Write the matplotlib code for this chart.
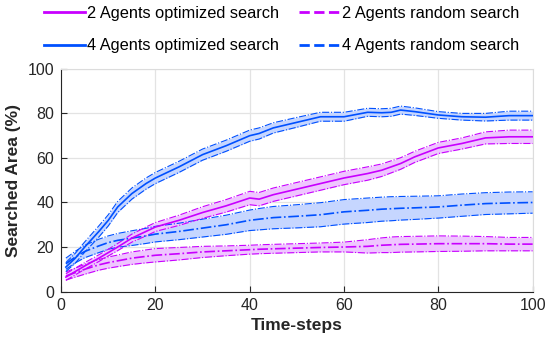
import numpy as np
import matplotlib
matplotlib.use("Agg")
import matplotlib.pyplot as plt
from matplotlib.lines import Line2D

plt.rcParams['font.family'] = ['Liberation Sans', 'DejaVu Sans']

# Time-steps at which the coverage was sampled
steps = [1, 3, 5, 8, 10, 12, 15, 18, 20, 25, 30, 35, 40, 42, 45, 50, 55, 60,
         65, 68, 70, 72, 75, 80, 85, 90, 95, 100]

# 4 agents, optimized search: mean and standard deviation (%)
opt4_mean = [11, 15, 20, 27, 32, 38, 44, 48.5, 51, 56, 61.5, 65.5, 70, 71,
             73.5, 76, 78.5, 78.5, 80.5, 80.3, 80.5, 81.5, 80.8, 79.3, 78.5,
             78.3, 79, 79]
opt4_std = [2, 2.2, 2.3, 2.5, 2.5, 2.5, 2.5, 2.5, 2.5, 2.5, 2.5, 2.5, 2.5, 2.5,
            2.3, 2.2, 2, 2, 1.8, 1.8, 1.8, 1.8, 1.7, 1.5, 1.5, 1.7, 2, 2]

# 4 agents, random search
rnd4_mean = [12.5, 15.5, 18, 20.5, 22, 23, 24, 25, 25.8, 27, 28.5, 30, 32,
             32.5, 33.2, 33.8, 34.5, 35.8, 36.5, 37, 37.2, 37.4, 37.6, 38,
             38.8, 39.5, 39.8, 40]
rnd4_std = [2.5, 2.6, 2.8, 3, 3, 3.1, 3.3, 3.4, 3.5, 3.7, 4, 4.3, 4.6, 4.8, 5,
            5.2, 5.4, 5.5, 5.5, 5.4, 5.4, 5.3, 5.2, 5, 5, 4.9, 4.9, 4.8]

# 2 agents, optimized search
opt2_mean = [6.5, 9, 11.5, 15, 17.5, 20, 24, 27, 29, 32, 35.5, 38.5, 42, 41.5,
             43.5, 46, 48.5, 51, 53, 54.5, 56, 57.5, 60.5, 64.5, 66.5, 69,
             69.5, 69.5]
opt2_std = [1.5, 1.5, 1.5, 1.5, 1.5, 1.6, 1.8, 2, 2, 2.3, 2.6, 2.8, 3, 3, 3,
            3, 3, 3, 3, 2.8, 2.7, 2.6, 2.5, 2.5, 2.5, 2.7, 3, 3]

# 2 agents, random search
rnd2_mean = [7, 8.5, 10, 12, 13, 13.8, 15, 15.8, 16.3, 17, 17.8, 18.3, 18.8,
             19, 19.2, 19.5, 19.8, 20, 20.3, 20.8, 21, 21.2, 21.3, 21.5, 21.5,
             21.5, 21.3, 21.3]
rnd2_std = [1.8, 2, 2.2, 2.4, 2.5, 2.6, 2.8, 2.9, 3, 2.8, 2.5, 2.2, 2, 2, 2,
            2, 2, 2.2, 3, 3.3, 3.5, 3.5, 3.5, 3.5, 3.4, 3.2, 3, 3]

labels = ["2 Agents optimized search", "2 Agents random search",
          "4 Agents optimized search", "4 Agents random search"]

MAGENTA = "#c800ff"
BLUE = "#0050ff"
MAGENTA_FILL = "#efc6ff"
BLUE_FILL = "#c6d6ff"

fig = plt.figure(figsize=(5.46, 3.41), dpi=100)
ax = fig.add_axes([0.112, 0.145, 0.8635, 0.653])

x = np.array(steps)


def band(mean, std, color, fill, mean_style):
    m = np.array(mean)
    s = np.array(std)
    ax.fill_between(x, m - s, m + s, color=fill, lw=0, zorder=1)
    ax.plot(x, m + s, color=color, lw=0.8, ls='-.', zorder=2)
    ax.plot(x, m - s, color=color, lw=0.8, ls='-.', zorder=2)
    ax.plot(x, m, color=color, lw=1.2, ls=mean_style, zorder=3)


band(rnd2_mean, rnd2_std, MAGENTA, MAGENTA_FILL, '-.')
band(rnd4_mean, rnd4_std, BLUE, BLUE_FILL, '-.')
band(opt2_mean, opt2_std, MAGENTA, MAGENTA_FILL, '-')
band(opt4_mean, opt4_std, BLUE, BLUE_FILL, '-')

ax.set_xlim(0, 100)
ax.set_ylim(0, 100)
ax.set_xticks([0, 20, 40, 60, 80, 100])
ax.set_yticks([0, 20, 40, 60, 80, 100])
ax.grid(True, color="#e3e3e3", lw=0.9)
ax.set_axisbelow(True)
ax.tick_params(direction='in', length=4, width=0.8, labelsize=11.5,
               colors="#262626", pad=5)
for side in ['left', 'bottom']:
    ax.spines[side].set_color("#262626")
    ax.spines[side].set_linewidth(0.8)
for side in ['top', 'right']:
    ax.spines[side].set_color("#dcdcdc")
    ax.spines[side].set_linewidth(0.8)

ax.set_xlabel("Time-steps", fontsize=12.5, fontweight='bold', color="#262626",
              labelpad=3)
ax.set_ylabel("Searched Area (%)", fontsize=12.5, fontweight='bold',
              color="#262626", labelpad=5)

# legend laid out row by row: column one holds the optimized runs
handles = [Line2D([], [], color=MAGENTA, lw=2, ls='-'),
           Line2D([], [], color=BLUE, lw=2, ls='-'),
           Line2D([], [], color=MAGENTA, lw=2, ls='--'),
           Line2D([], [], color=BLUE, lw=2, ls='--')]
order = [labels[0], labels[2], labels[1], labels[3]]
fig.legend(handles, order, ncol=2, frameon=False, loc='upper center',
           bbox_to_anchor=(0.516, 1.025), fontsize=11.8, handlelength=2.5,
           handletextpad=0.15, columnspacing=1.2, labelspacing=1.05)

fig.savefig("out.png", dpi=100)
